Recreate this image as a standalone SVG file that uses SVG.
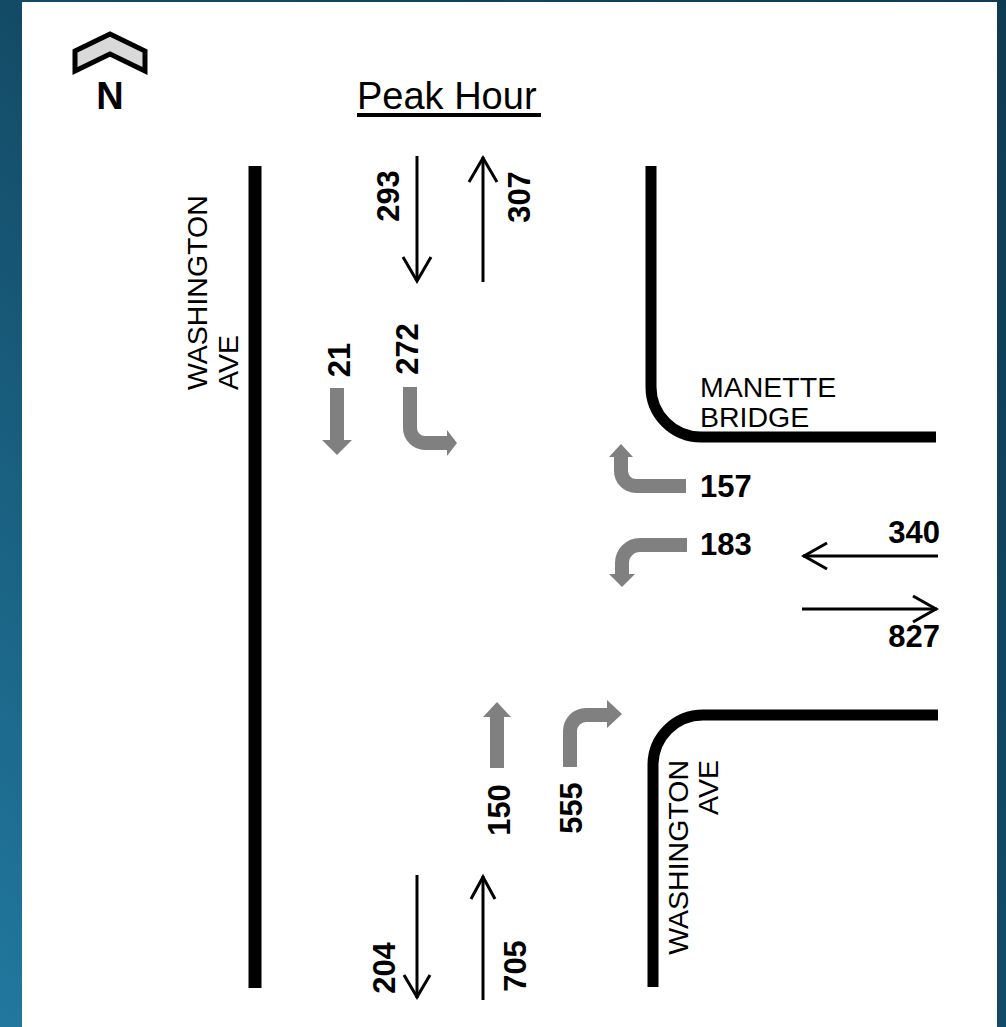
<svg xmlns="http://www.w3.org/2000/svg" width="1006" height="1027" viewBox="0 0 1006 1027">
  <defs>
    <linearGradient id="bg" x1="1" y1="0" x2="0" y2="1">
      <stop offset="0" stop-color="#0f3b52"/>
      <stop offset="0.5" stop-color="#134b66"/>
      <stop offset="1" stop-color="#21789f"/>
    </linearGradient>
    <style>
      .road{fill:none;stroke:#000;stroke-width:11}
      .thin{fill:none;stroke:#000;stroke-width:3}
      .gshaft{fill:none;stroke:#808080;stroke-width:14}
      .ghead{fill:#808080}
      .num{font-family:"Liberation Sans",Arial,sans-serif;font-weight:bold;font-size:31px;fill:#000}
      .street{font-family:"Liberation Sans",Arial,sans-serif;font-size:28.5px;fill:#000}
    </style>
  </defs>
  <rect width="1006" height="1027" fill="url(#bg)"/>
  <rect x="22" y="2" width="975" height="1025" fill="#fff"/>

  <g id="north">
    <polygon points="75,51 110,34 145,51 145,71 110,54 75,71" fill="#d9d9d9" stroke="#000" stroke-width="5" stroke-linejoin="miter"/>
    <text x="110" y="109" text-anchor="middle" font-family="Liberation Sans, Arial, sans-serif" font-weight="bold" font-size="38">N</text>
  </g>

  <g id="title">
    <text x="357" y="109" font-family="Liberation Sans, Arial, sans-serif" font-size="38">Peak Hour</text>
    <rect x="357" y="113" width="184" height="4" fill="#000"/>
  </g>

  <g id="roads">
    <line id="washington-west" x1="255" y1="166" x2="255" y2="988" stroke="#000" stroke-width="13"/>
    <path id="manette-north" class="road" d="M651,166 V387 A50,50 0 0 0 701,437 H936"/>
    <path id="manette-south" class="road" d="M938,715 H703 A50,50 0 0 0 653,765 V987"/>
  </g>

  <g id="street-labels">
    <text class="street" transform="translate(207,390) rotate(-90)"><tspan x="0" y="0">WASHINGTON</tspan><tspan x="0" y="31">AVE</tspan></text>
    <text class="street" transform="translate(688,760) rotate(-90)" text-anchor="end"><tspan x="0" y="0">WASHINGTON</tspan><tspan x="0" y="30">AVE</tspan></text>
    <text class="street" font-size="28"><tspan x="700" y="397">MANETTE</tspan><tspan x="700" y="427">BRIDGE</tspan></text>
  </g>

  <g id="connectors">
    <g id="sb-293"><line class="thin" x1="417" y1="156" x2="417" y2="281"/><polyline class="thin" points="403,257 417,281 431,257"/></g>
    <g id="nb-307"><line class="thin" x1="483" y1="157" x2="483" y2="282"/><polyline class="thin" points="469,182 483,158 497,182"/></g>
    <g id="wb-340"><line class="thin" x1="803" y1="556" x2="938" y2="556"/><polyline class="thin" points="827,543 804,556 827,569"/></g>
    <g id="eb-827"><line class="thin" x1="802" y1="609" x2="937" y2="609"/><polyline class="thin" points="913,596 936,609 913,622"/></g>
    <g id="sb-204"><line class="thin" x1="417" y1="875" x2="417" y2="998"/><polyline class="thin" points="404,975 417,997 430,975"/></g>
    <g id="nb-705"><line class="thin" x1="483" y1="876" x2="483" y2="1000"/><polyline class="thin" points="471,899 483,877 495,899"/></g>

    <g id="sbt-21"><line class="gshaft" x1="337" y1="388" x2="337" y2="441" stroke-width="13"/><polygon class="ghead" points="322,440 352,440 337,455"/></g>
    <g id="sbl-272"><path class="gshaft" d="M410,387 V428 A15,15 0 0 0 425,443 H448"/><polygon class="ghead" points="447,430 457,443 447,456"/></g>
    <g id="wbr-157"><path class="gshaft" d="M686,486 H636 A15,15 0 0 1 621,471 V456" stroke-width="12"/><polygon class="ghead" points="609,457 621,444 633,457"/></g>
    <g id="wbl-183"><path class="gshaft" d="M687,545 H640 A18,18 0 0 0 622,563 V575" stroke-width="12"/><polygon class="ghead" points="609,574 622,587 635,574"/></g>
    <g id="nbt-150"><line class="gshaft" x1="497" y1="768" x2="497" y2="716"/><polygon class="ghead" points="483,717 497,702 511,717"/></g>
    <g id="nbr-555"><path class="gshaft" d="M570,767 V731 A16,16 0 0 1 586,715 H608"/><polygon class="ghead" points="607,700 622,714 607,728"/></g>
  </g>

  <g id="volume-labels">
    <text class="num" transform="translate(399,196) rotate(-90)" text-anchor="middle">293</text>
    <text class="num" transform="translate(530,197) rotate(-90)" text-anchor="middle">307</text>
    <text class="num" transform="translate(350,360) rotate(-90)" text-anchor="middle">21</text>
    <text class="num" transform="translate(418,349) rotate(-90)" text-anchor="middle">272</text>
    <text class="num" x="700" y="497">157</text>
    <text class="num" x="700" y="555">183</text>
    <text class="num" x="940" y="543" text-anchor="end">340</text>
    <text class="num" x="940" y="647" text-anchor="end">827</text>
    <text class="num" transform="translate(510,810) rotate(-90)" text-anchor="middle">150</text>
    <text class="num" transform="translate(582,808) rotate(-90)" text-anchor="middle">555</text>
    <text class="num" transform="translate(395,968) rotate(-90)" text-anchor="middle">204</text>
    <text class="num" transform="translate(526,966) rotate(-90)" text-anchor="middle">705</text>
  </g>
</svg>
